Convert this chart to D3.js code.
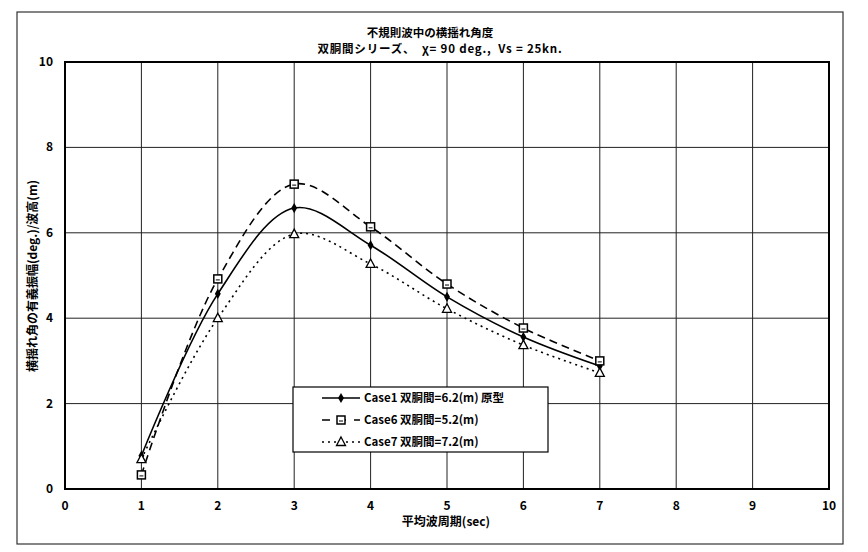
<!DOCTYPE html>
<html><head><meta charset="utf-8">
<script src="https://cdn.jsdelivr.net/npm/d3@7"></script>
<style>body{margin:0;background:#fff}svg text{font-family:"Noto Sans CJK JP","Noto Sans",sans-serif;font-weight:bold;fill:#000}</style>
</head><body><svg id="c" width="868" height="552"></svg>
<script>
const periods = [1, 2, 3, 4, 5, 6, 7];
const case1 = [0.78, 4.57, 6.58, 5.71, 4.5, 3.56, 2.88];
const case6 = [0.33, 4.92, 7.14, 6.14, 4.8, 3.77, 3.0];
const case7 = [0.7, 4.0, 5.97, 5.27, 4.22, 3.37, 2.72];
const xTicks = [0,1,2,3,4,5,6,7,8,9,10];
const yTicks = [0,2,4,6,8,10];
const seriesNames = ["Case1 双胴間=6.2(m) 原型", "Case6 双胴間=5.2(m)", "Case7 双胴間=7.2(m)"];
const titleLines = ["不規則波中の横揺れ角度", "双胴間シリーズ、  χ= 90 deg.,  Vs = 25kn."];
const xTitle = "平均波周期(sec)";
const yTitle = "横揺れ角の有義振幅(deg.)/波高(m)";

const svg = d3.select("#c");
const L=65, R=829, T=62, B=489;
const x = d3.scaleLinear().domain([0,10]).range([L,R]);
const y = d3.scaleLinear().domain([0,10]).range([B,T]);

// outer frame
svg.append("rect").attr("x",17).attr("y",12).attr("width",826).attr("height",532)
  .attr("fill","none").attr("stroke","#333").attr("stroke-width",1.2);

// grid
const g = svg.append("g");
g.selectAll("line.vx").data(xTicks.slice(1,-1)).join("line")
  .attr("x1",d=>x(d)).attr("x2",d=>x(d)).attr("y1",T).attr("y2",B)
  .attr("stroke","#222").attr("stroke-width",1);
g.selectAll("line.hy").data(yTicks.slice(1,-1)).join("line")
  .attr("x1",L).attr("x2",R).attr("y1",d=>y(d)).attr("y2",d=>y(d))
  .attr("stroke","#222").attr("stroke-width",1);
svg.append("rect").attr("x",L).attr("y",T).attr("width",R-L).attr("height",B-T)
  .attr("fill","none").attr("stroke","#000").attr("stroke-width",2);

// tick labels
svg.selectAll("text.xt").data(xTicks).join("text")
  .attr("x",d=>x(d)).attr("y",510).attr("text-anchor","middle").attr("font-size",12).text(d=>d);
svg.selectAll("text.yt").data(yTicks).join("text")
  .attr("x",53).attr("y",d=>y(d)+4).attr("text-anchor","end").attr("font-size",12).text(d=>d);

// titles
svg.selectAll("text.tt").data(titleLines).join("text")
  .attr("x",(d,i)=>i===0?430:440).attr("y",(d,i)=>37+i*16).attr("text-anchor","middle")
  .attr("font-size",11.5).style("white-space","pre").attr("letter-spacing",(d,i)=>i===1?"0.8px":"0px").text(d=>d);
svg.append("text").attr("x",446).attr("y",526).attr("text-anchor","middle").attr("font-size",12).text(xTitle);
svg.append("text").attr("transform","translate(37,276) rotate(-90)").attr("text-anchor","middle").attr("font-size",12).text(yTitle);

// series
const series = [
  {vals:case1, dash:null, marker:"diamond"},
  {vals:case6, dash:"8,5", marker:"square"},
  {vals:case7, dash:"2,4", marker:"triangle"}
];
const line = d3.line().x(d=>x(d[0])).y(d=>y(d[1])).curve(d3.curveCatmullRom.alpha(0.5));
function drawMarker(sel, type, cx, cy){
  if(type==="diamond"){
    sel.append("path").attr("d",d3.symbol(d3.symbolDiamond,30)()).attr("transform",`translate(${cx},${cy})`).attr("fill","#000");
  } else if(type==="square"){
    sel.append("rect").attr("x",cx-4).attr("y",cy-4).attr("width",8).attr("height",8).attr("fill","#fff").attr("stroke","#000").attr("stroke-width",1.5);
    sel.append("line").attr("x1",cx-2).attr("x2",cx+2).attr("y1",cy+1).attr("y2",cy+1).attr("stroke","#000");
  } else {
    sel.append("path").attr("d",`M${cx},${cy-5}L${cx+4.5},${cy+3.5}L${cx-4.5},${cy+3.5}Z`).attr("fill","#fff").attr("stroke","#000").attr("stroke-width",1.3);
  }
}
series.forEach(s=>{
  const pts = periods.map((p,i)=>[p,s.vals[i]]);
  const p = svg.append("path").attr("d",line(pts)).attr("fill","none").attr("stroke","#000").attr("stroke-width",1.6);
  if(s.dash) p.attr("stroke-dasharray",s.dash);
  const mg = svg.append("g");
  pts.forEach(d=>drawMarker(mg,s.marker,x(d[0]),y(d[1])));
});

// legend
const lg = svg.append("g");
lg.append("rect").attr("x",293).attr("y",387).attr("width",255).attr("height",65)
  .attr("fill","#fff").attr("stroke","#000").attr("stroke-width",1.2);
series.forEach((s,i)=>{
  const yy = 398 + i*22;
  const l = lg.append("line").attr("x1",322).attr("x2",360).attr("y1",yy).attr("y2",yy).attr("stroke","#000").attr("stroke-width",1.6);
  if(s.dash) l.attr("stroke-dasharray", i===1?"8,8":"2,4");
  drawMarker(lg,s.marker,341,yy);
  lg.append("text").attr("x",364).attr("y",yy+4).attr("font-size",11.5).text(seriesNames[i]);
});
</script></body></html>
